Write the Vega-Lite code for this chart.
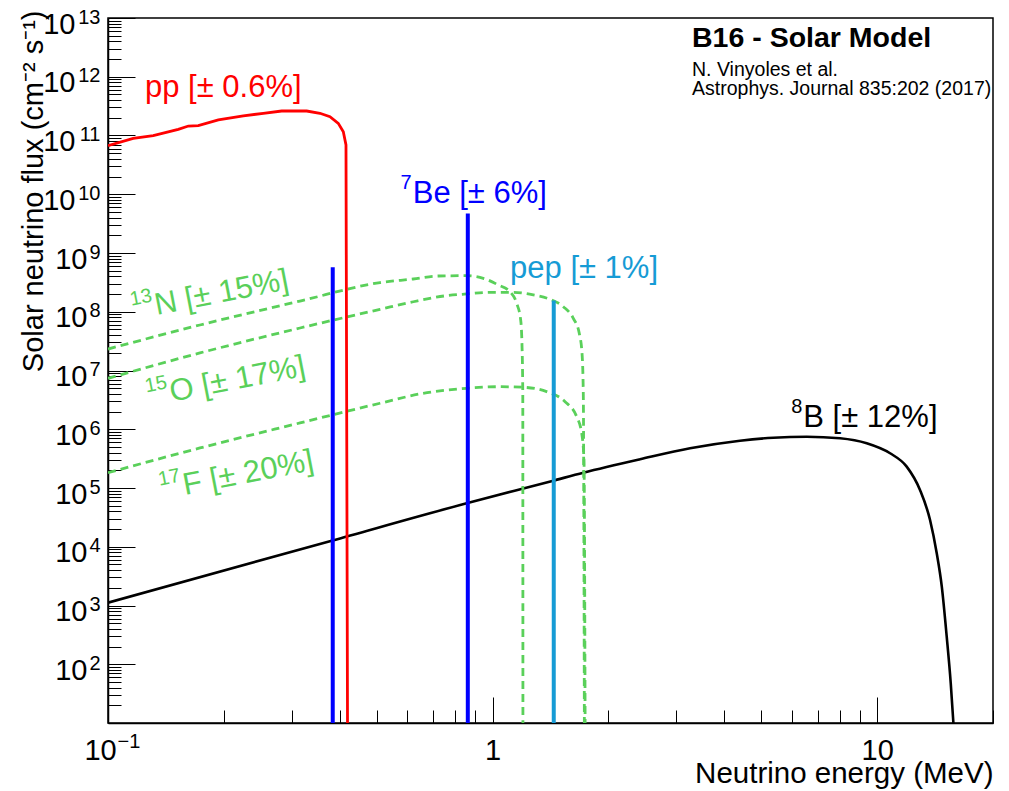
{
  "$schema": "https://vega.github.io/schema/vega-lite/v6.json",
  "width": 885,
  "height": 705,
  "autosize": {"type": "none"},
  "padding": {"left": 108, "top": 18, "right": 16, "bottom": 68},
  "background": "white",
  "config": {
    "view": {"stroke": "black", "strokeWidth": 1.5},
    "font": "Liberation Sans",
    "axis": {"grid": false, "domainColor": "black", "domainWidth": 1.5, "tickColor": "black", "tickWidth": 1, "labelColor": "black", "titleColor": "black", "labelFont": "Liberation Sans", "titleFont": "Liberation Sans", "titleFontWeight": "normal", "labelFlush": false, "labelOverlap": false, "labelBound": false}
  },
  "datasets": {
    "curves": [
      {"src": "pp", "E": 0.1, "F": 6.71e10},
      {"src": "pp", "E": 0.1163, "F": 8.95e10},
      {"src": "pp", "E": 0.1311, "F": 9.93e10},
      {"src": "pp", "E": 0.1523, "F": 1.27e11},
      {"src": "pp", "E": 0.1618, "F": 1.45e11},
      {"src": "pp", "E": 0.1717, "F": 1.47e11},
      {"src": "pp", "E": 0.1936, "F": 1.84e11},
      {"src": "pp", "E": 0.2248, "F": 2.15e11},
      {"src": "pp", "E": 0.2534, "F": 2.39e11},
      {"src": "pp", "E": 0.2829, "F": 2.61e11},
      {"src": "pp", "E": 0.3285, "F": 2.61e11},
      {"src": "pp", "E": 0.3557, "F": 2.39e11},
      {"src": "pp", "E": 0.3777, "F": 2.09e11},
      {"src": "pp", "E": 0.397, "F": 1.61e11},
      {"src": "pp", "E": 0.4091, "F": 1.16e11},
      {"src": "pp", "E": 0.4157, "F": 6.89e10},
      {"src": "pp", "E": 0.4195, "F": 10},
      {"src": "8B", "E": 0.1, "F": 1117},
      {"src": "8B", "E": 0.3816, "F": 1.27e4},
      {"src": "8B", "E": 0.856, "F": 5.5e4},
      {"src": "8B", "E": 1.43, "F": 1.32e5},
      {"src": "8B", "E": 1.721, "F": 1.82e5},
      {"src": "8B", "E": 2.417, "F": 3.08e5},
      {"src": "8B", "E": 3.261, "F": 4.74e5},
      {"src": "8B", "E": 4.398, "F": 6.38e5},
      {"src": "8B", "E": 5.368, "F": 7.18e5},
      {"src": "8B", "E": 6.557, "F": 7.47e5},
      {"src": "8B", "E": 8.004, "F": 7.02e5},
      {"src": "8B", "E": 9.391, "F": 5.77e5},
      {"src": "8B", "E": 10.8, "F": 3.9e5},
      {"src": "8B", "E": 11.93, "F": 2.31e5},
      {"src": "8B", "E": 12.92, "F": 9.25e4},
      {"src": "8B", "E": 13.72, "F": 2.85e4},
      {"src": "8B", "E": 14.28, "F": 7.74e3},
      {"src": "8B", "E": 14.72, "F": 2.09e3},
      {"src": "8B", "E": 15.16, "F": 294},
      {"src": "8B", "E": 15.53, "F": 47.4},
      {"src": "8B", "E": 15.77, "F": 10.5},
      {"src": "8B", "E": 15.95, "F": 3},
      {"src": "13N", "E": 0.1, "F": 2.32e7},
      {"src": "13N", "E": 0.1734, "F": 5.95e7},
      {"src": "13N", "E": 0.3157, "F": 1.52e8},
      {"src": "13N", "E": 0.5096, "F": 3.13e8},
      {"src": "13N", "E": 0.622, "F": 3.61e8},
      {"src": "13N", "E": 0.7226, "F": 4.06e8},
      {"src": "13N", "E": 0.856, "F": 4.11e8},
      {"src": "13N", "E": 0.946, "F": 3.71e8},
      {"src": "13N", "E": 1.035, "F": 2.85e8},
      {"src": "13N", "E": 1.11, "F": 2.19e8},
      {"src": "13N", "E": 1.155, "F": 1.39e8},
      {"src": "13N", "E": 1.183, "F": 7.24e7},
      {"src": "13N", "E": 1.192, "F": 2.9e7},
      {"src": "13N", "E": 1.198, "F": 4.09e6},
      {"src": "13N", "E": 1.199, "F": 10},
      {"src": "15O", "E": 0.1, "F": 7.36e6},
      {"src": "15O", "E": 0.1734, "F": 1.99e7},
      {"src": "15O", "E": 0.3157, "F": 5.29e7},
      {"src": "15O", "E": 0.5096, "F": 1.1e8},
      {"src": "15O", "E": 0.622, "F": 1.48e8},
      {"src": "15O", "E": 0.76, "F": 1.88e8},
      {"src": "15O", "E": 0.856, "F": 2.01e8},
      {"src": "15O", "E": 0.9845, "F": 2.14e8},
      {"src": "15O", "E": 1.132, "F": 2.14e8},
      {"src": "15O", "E": 1.276, "F": 1.93e8},
      {"src": "15O", "E": 1.41, "F": 1.63e8},
      {"src": "15O", "E": 1.527, "F": 1.22e8},
      {"src": "15O", "E": 1.621, "F": 7.74e7},
      {"src": "15O", "E": 1.68, "F": 4.3e7},
      {"src": "15O", "E": 1.708, "F": 1.96e7},
      {"src": "15O", "E": 1.721, "F": 4.09e6},
      {"src": "15O", "E": 1.732, "F": 10},
      {"src": "17F", "E": 0.1, "F": 1.82e5},
      {"src": "17F", "E": 0.1734, "F": 4.8e5},
      {"src": "17F", "E": 0.3157, "F": 1.28e6},
      {"src": "17F", "E": 0.5096, "F": 2.77e6},
      {"src": "17F", "E": 0.66, "F": 4.09e6},
      {"src": "17F", "E": 0.856, "F": 4.98e6},
      {"src": "17F", "E": 1.045, "F": 5.3e6},
      {"src": "17F", "E": 1.202, "F": 5.18e6},
      {"src": "17F", "E": 1.382, "F": 4.36e6},
      {"src": "17F", "E": 1.543, "F": 2.94e6},
      {"src": "17F", "E": 1.654, "F": 1.64e6},
      {"src": "17F", "E": 1.705, "F": 8.53e5},
      {"src": "17F", "E": 1.728, "F": 3.0e5},
      {"src": "17F", "E": 1.74, "F": 10}
    ],
    "lines": [
      {"src": "7Be", "E": 0.384, "F": 5.7e8},
      {"src": "7Be", "E": 0.862, "F": 4.7e9},
      {"src": "pep", "E": 1.442, "F": 1.55e8}
    ],
    "labels": [
      {"src": "pp", "sup": "", "text": "pp [± 0.6%]", "E": 0.1248, "F": 4.52e11},
      {"src": "7Be", "sup": "7", "text": "Be [± 6%]", "E": 0.6198, "F": 7.18e9},
      {"src": "pep", "sup": "", "text": "pep [± 1%]", "E": 1.11, "F": 3.71e8},
      {"src": "8B", "sup": "8", "text": "B [± 12%]", "E": 6.425, "F": 1.1e6}
    ],
    "rotlabels": [
      {"src": "13N", "sup": "13", "text": "N [± 15%]", "E": 0.1338, "F": 8.81e7},
      {"src": "15O", "sup": "15", "text": "O [± 17%]", "E": 0.1464, "F": 2.94e6},
      {"src": "17F", "sup": "17", "text": "F [± 20%]", "E": 0.1585, "F": 7.6e4}
    ],
    "info": [
      {"text": "N. Vinyoles et al.", "E": 3.3, "F": 1.04e12},
      {"text": "Astrophys. Journal 835:202 (2017)", "E": 3.3, "F": 4.89e11}
    ],
    "infotitle": [
      {"text": "B16 - Solar Model", "E": 3.3, "F": 3.21e12}
    ]
  },
  "resolve": {"axis": {"x": "independent", "y": "independent"}},
  "layer": [
    {
      "data": {"name": "lines"},
      "mark": {"type": "point", "opacity": 0},
      "encoding": {
        "x": {"field": "E", "type": "quantitative", "scale": {"type": "log", "domain": [0.1, 20], "nice": false},
          "axis": {"orient": "bottom", "values": [0.1, 1, 10], "labels": false, "tickSize": -26, "title": "Neutrino energy (MeV)", "titleFontSize": 29.5, "titleAnchor": "end", "titleAlign": "right", "titleBaseline": "alphabetic", "titleX": 885, "titleY": 59}},
        "y": {"field": "F", "type": "quantitative", "scale": {"type": "log", "domain": [10, 1e13], "nice": false},
          "axis": {"orient": "left", "values": [1e2, 1e3, 1e4, 1e5, 1e6, 1e7, 1e8, 1e9, 1e10, 1e11, 1e12, 1e13], "labels": false, "tickSize": -27, "title": "Solar neutrino flux (cm⁻² s⁻¹)", "titleFontSize": 29, "titleAngle": 270, "titleAlign": "right", "titleBaseline": "alphabetic", "titleX": -66, "titleY": -8}}
      }
    },
    {
      "data": {"name": "lines"},
      "mark": {"type": "point", "opacity": 0},
      "encoding": {
        "x": {"field": "E", "type": "quantitative", "scale": {"type": "log", "domain": [0.1, 20], "nice": false},
          "axis": {"orient": "bottom", "values": [0.2, 0.3, 0.4, 0.5, 0.6, 0.7, 0.8, 0.9, 2, 3, 4, 5, 6, 7, 8, 9, 20], "labels": false, "domain": false, "tickSize": -13, "title": null}},
        "y": {"field": "F", "type": "quantitative", "scale": {"type": "log", "domain": [10, 1e13], "nice": false},
          "axis": {"orient": "left", "values": [2e1,3e1,4e1,5e1,6e1,7e1,8e1,9e1,2e2,3e2,4e2,5e2,6e2,7e2,8e2,9e2,2e3,3e3,4e3,5e3,6e3,7e3,8e3,9e3,2e4,3e4,4e4,5e4,6e4,7e4,8e4,9e4,2e5,3e5,4e5,5e5,6e5,7e5,8e5,9e5,2e6,3e6,4e6,5e6,6e6,7e6,8e6,9e6,2e7,3e7,4e7,5e7,6e7,7e7,8e7,9e7,2e8,3e8,4e8,5e8,6e8,7e8,8e8,9e8,2e9,3e9,4e9,5e9,6e9,7e9,8e9,9e9,2e10,3e10,4e10,5e10,6e10,7e10,8e10,9e10,2e11,3e11,4e11,5e11,6e11,7e11,8e11,9e11,2e12,3e12,4e12,5e12,6e12,7e12,8e12,9e12], "labels": false, "domain": false, "tickSize": -13, "title": null}}
      }
    },
    {
      "data": {"name": "lines"},
      "mark": {"type": "point", "opacity": 0},
      "encoding": {
        "x": {"field": "E", "type": "quantitative", "scale": {"type": "log", "domain": [0.1, 20], "nice": false},
          "axis": {"orient": "bottom", "values": [1, 10], "labelExpr": "datum.value < 5 ? '1' : '10'", "ticks": false, "tickSize": 0, "domain": false, "labelPadding": 36, "labelBaseline": "alphabetic", "labelAlign": "center", "labelFontSize": 29, "title": null}},
        "y": {"field": "F", "type": "quantitative", "scale": {"type": "log", "domain": [10, 1e13], "nice": false},
          "axis": {"orient": "left", "values": [1e2, 1e3, 1e4, 1e5, 1e6, 1e7, 1e8, 1e9], "labelExpr": "'10'", "ticks": false, "tickSize": 0, "domain": false, "labelPadding": 21, "labelBaseline": "alphabetic", "labelAlign": "right", "labelOffset": 15, "labelFontSize": 29, "title": null}}
      }
    },
    {
      "data": {"name": "lines"},
      "mark": {"type": "point", "opacity": 0},
      "encoding": {
        "x": {"field": "E", "type": "quantitative", "scale": {"type": "log", "domain": [0.1, 20], "nice": false},
          "axis": {"orient": "bottom", "values": [0.1], "labelExpr": "'10'", "ticks": false, "tickSize": 0, "domain": false, "labelPadding": 36, "labelBaseline": "alphabetic", "labelAlign": "center", "labelOffset": -8, "labelFontSize": 29, "title": null}},
        "y": {"field": "F", "type": "quantitative", "scale": {"type": "log", "domain": [10, 1e13], "nice": false},
          "axis": {"orient": "left", "values": [1e10, 1e11, 1e12, 1e13], "labelExpr": "'10'", "ticks": false, "tickSize": 0, "domain": false, "labelPadding": 33, "labelBaseline": "alphabetic", "labelAlign": "right", "labelOffset": 15, "labelFontSize": 29, "title": null}}
      }
    },
    {
      "data": {"name": "lines"},
      "mark": {"type": "point", "opacity": 0},
      "encoding": {
        "x": {"field": "E", "type": "quantitative", "scale": {"type": "log", "domain": [0.1, 20], "nice": false},
          "axis": {"orient": "bottom", "values": [0.1], "labelExpr": "'−1'", "ticks": false, "tickSize": 0, "domain": false, "labelPadding": 24, "labelBaseline": "alphabetic", "labelAlign": "left", "labelOffset": 9, "labelFontSize": 20, "title": null}},
        "y": {"field": "F", "type": "quantitative", "scale": {"type": "log", "domain": [10, 1e13], "nice": false},
          "axis": {"orient": "left", "values": [1e2, 1e3, 1e4, 1e5, 1e6, 1e7, 1e8, 1e9, 1e10, 1e11, 1e12, 1e13], "labelExpr": "'' + round(log(datum.value)/LN10)", "ticks": false, "tickSize": 0, "domain": false, "labelPadding": 8, "labelBaseline": "alphabetic", "labelAlign": "right", "labelOffset": 5, "labelFontSize": 20, "title": null}}
      }
    },
    {
      "data": {"name": "curves"},
      "transform": [{"filter": "datum.src === '8B'"}],
      "mark": {"type": "line", "strokeWidth": 2.6, "clip": true, "interpolate": "monotone"},
      "encoding": {
        "x": {"field": "E", "type": "quantitative", "scale": {"type": "log", "domain": [0.1, 20], "nice": false}, "axis": null},
        "y": {"field": "F", "type": "quantitative", "scale": {"type": "log", "domain": [10, 1e13], "nice": false}, "axis": null},
        "color": {"field": "src", "type": "nominal", "legend": null, "scale": {"domain": ["pp", "7Be", "pep", "13N", "15O", "17F", "8B"], "range": ["#ff0000", "#0000ff", "#169bd5", "#5ad05a", "#5ad05a", "#5ad05a", "#000000"]}}
      }
    },
    {
      "data": {"name": "curves"},
      "transform": [{"filter": "datum.src === '13N' || datum.src === '15O' || datum.src === '17F'"}],
      "mark": {"type": "line", "strokeWidth": 2.8, "strokeDash": [8, 5], "clip": true, "interpolate": "monotone"},
      "encoding": {
        "x": {"field": "E", "type": "quantitative", "scale": {"type": "log", "domain": [0.1, 20], "nice": false}, "axis": null},
        "y": {"field": "F", "type": "quantitative", "scale": {"type": "log", "domain": [10, 1e13], "nice": false}, "axis": null},
        "color": {"field": "src", "type": "nominal", "legend": null},
        "detail": {"field": "src"}
      }
    },
    {
      "data": {"name": "curves"},
      "transform": [{"filter": "datum.src === 'pp'"}],
      "mark": {"type": "line", "strokeWidth": 2.8, "clip": true},
      "encoding": {
        "x": {"field": "E", "type": "quantitative", "scale": {"type": "log", "domain": [0.1, 20], "nice": false}, "axis": null},
        "y": {"field": "F", "type": "quantitative", "scale": {"type": "log", "domain": [10, 1e13], "nice": false}, "axis": null},
        "color": {"field": "src", "type": "nominal", "legend": null}
      }
    },
    {
      "data": {"name": "lines"},
      "mark": {"type": "rule", "strokeWidth": 4},
      "encoding": {
        "x": {"field": "E", "type": "quantitative", "scale": {"type": "log", "domain": [0.1, 20], "nice": false}, "axis": null},
        "y": {"field": "F", "type": "quantitative", "scale": {"type": "log", "domain": [10, 1e13], "nice": false}, "axis": null},
        "y2": {"datum": 10},
        "color": {"field": "src", "type": "nominal", "legend": null}
      }
    },
    {
      "data": {"name": "labels"},
      "mark": {"type": "text", "fontSize": 31, "align": "left", "baseline": "alphabetic", "font": "Liberation Sans"},
      "encoding": {
        "x": {"field": "E", "type": "quantitative", "scale": {"type": "log", "domain": [0.1, 20], "nice": false}, "axis": null},
        "y": {"field": "F", "type": "quantitative", "scale": {"type": "log", "domain": [10, 1e13], "nice": false}, "axis": null},
        "text": {"field": "text"},
        "color": {"field": "src", "type": "nominal", "legend": null}
      }
    },
    {
      "data": {"name": "labels"},
      "mark": {"type": "text", "fontSize": 20, "align": "right", "baseline": "alphabetic", "dx": -1, "dy": -14, "font": "Liberation Sans"},
      "encoding": {
        "x": {"field": "E", "type": "quantitative", "scale": {"type": "log", "domain": [0.1, 20], "nice": false}, "axis": null},
        "y": {"field": "F", "type": "quantitative", "scale": {"type": "log", "domain": [10, 1e13], "nice": false}, "axis": null},
        "text": {"field": "sup"},
        "color": {"field": "src", "type": "nominal", "legend": null}
      }
    },
    {
      "data": {"name": "rotlabels"},
      "mark": {"type": "text", "fontSize": 31, "align": "left", "baseline": "alphabetic", "angle": 349, "font": "Liberation Sans"},
      "encoding": {
        "x": {"field": "E", "type": "quantitative", "scale": {"type": "log", "domain": [0.1, 20], "nice": false}, "axis": null},
        "y": {"field": "F", "type": "quantitative", "scale": {"type": "log", "domain": [10, 1e13], "nice": false}, "axis": null},
        "text": {"field": "text"},
        "color": {"field": "src", "type": "nominal", "legend": null}
      }
    },
    {
      "data": {"name": "rotlabels"},
      "mark": {"type": "text", "fontSize": 20, "align": "right", "baseline": "alphabetic", "angle": 349, "dx": -1, "dy": -14, "font": "Liberation Sans"},
      "encoding": {
        "x": {"field": "E", "type": "quantitative", "scale": {"type": "log", "domain": [0.1, 20], "nice": false}, "axis": null},
        "y": {"field": "F", "type": "quantitative", "scale": {"type": "log", "domain": [10, 1e13], "nice": false}, "axis": null},
        "text": {"field": "sup"},
        "color": {"field": "src", "type": "nominal", "legend": null}
      }
    },
    {
      "data": {"name": "infotitle"},
      "mark": {"type": "text", "fontSize": 28.5, "fontWeight": "bold", "align": "left", "baseline": "alphabetic", "color": "black", "font": "Liberation Sans"},
      "encoding": {
        "x": {"field": "E", "type": "quantitative", "scale": {"type": "log", "domain": [0.1, 20], "nice": false}, "axis": null},
        "y": {"field": "F", "type": "quantitative", "scale": {"type": "log", "domain": [10, 1e13], "nice": false}, "axis": null},
        "text": {"field": "text"}
      }
    },
    {
      "data": {"name": "info"},
      "mark": {"type": "text", "fontSize": 19.5, "align": "left", "baseline": "alphabetic", "color": "black", "font": "Liberation Sans"},
      "encoding": {
        "x": {"field": "E", "type": "quantitative", "scale": {"type": "log", "domain": [0.1, 20], "nice": false}, "axis": null},
        "y": {"field": "F", "type": "quantitative", "scale": {"type": "log", "domain": [10, 1e13], "nice": false}, "axis": null},
        "text": {"field": "text"}
      }
    }
  ]
}
